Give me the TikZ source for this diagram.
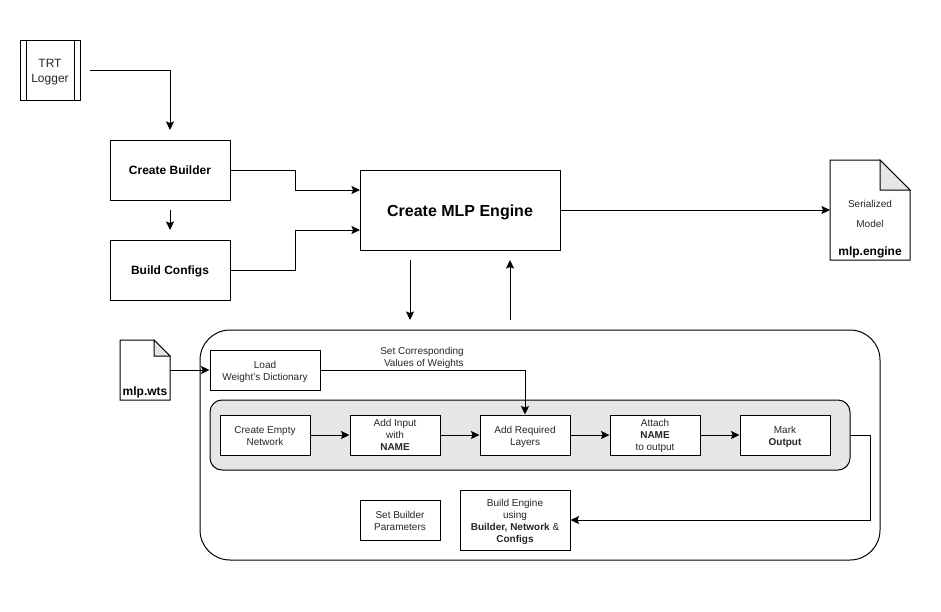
\documentclass[tikz,border=0pt]{standalone}
\usepackage{fontspec}
\setmainfont{Liberation Sans}
\usetikzlibrary{arrows.meta,calc}
\definecolor{panel}{HTML}{E6E6E6}
\tikzset{
  x=1pt,y=-1pt,
  line/.style={line width=1pt,draw=black},
  conn/.style={line,-{Stealth[length=8.5pt,width=8pt,inset=1.5pt]}},
  boxed/.style={line,draw,fill=white,inner sep=0pt,align=center,font=\fontsize{10}{12}\selectfont,text=black!85,text depth=2pt},
  threeline/.style={boxed,text depth=4pt},
  strongbox/.style={boxed,font=\fontsize{12}{14}\selectfont\bfseries,text=black,text height=10.5pt,text depth=2pt},
  big/.style={boxed,font=\fontsize{16}{19}\selectfont\bfseries,text=black,text height=13.5pt,text depth=0pt},
  lbl/.style={inner sep=0pt,align=center,font=\fontsize{10}{12}\selectfont,text=black!85,text depth=2pt},
  boldlbl/.style={inner sep=0pt,font=\fontsize{12}{14}\selectfont\bfseries,text=black,text height=10.5pt,text depth=2pt},
}
\newcommand{\bx}[7]{\node[#7,minimum width=#4pt,minimum height=#5pt] (#1) at (#2+#4/2,#3+#5/2) {\rule{0pt}{10pt}#6};}
\newcommand{\dogear}[6]{% name x y w h fold
  \draw[line,fill=white] (#2,#3) -- (#2+#4-#6,#3) -- (#2+#4,#3+#6) -- (#2+#4,#3+#5) -- (#2,#3+#5) -- cycle;
  \draw[line,fill=panel] (#2+#4-#6,#3) -- (#2+#4,#3+#6) -- (#2+#4-#6,#3+#6) -- cycle;
  \coordinate (#1) at (#2+#4/2,#3+#5/2);
}
\begin{document}
\begin{tikzpicture}
\useasboundingbox (0,0) rectangle (941,611);
\fill[white] (0,0) rectangle (941,611);
% logger
\node[boxed,font=\fontsize{12}{15}\selectfont,minimum width=60pt,minimum height=60pt] (logger) at (50,70) {\rule{0pt}{11pt}TRT\\Logger};
\draw[line] (26,40) -- (26,100) (74,40) -- (74,100);
\bx{builder}{110}{140}{120}{60}{Create Builder}{strongbox}
\bx{configs}{110}{240}{120}{60}{Build Configs}{strongbox}
\node[big,minimum width=200pt,minimum height=80pt] (engine) at (460,210) {Create MLP Engine};
% documents
\dogear{modeldoc}{830}{160}{80}{100}{30}
\node[lbl] (ser) at (870,203) {\rule{0pt}{10pt}Serialized};
\node[lbl] (mod) at (870,223) {\rule{0pt}{10pt}Model};
\node[boldlbl] (mlpengine) at (870,251) {mlp.engine};
\coordinate (modelW) at (830,210);
\dogear{wtsdoc}{120}{340}{50}{60}{16}
\node[boldlbl] (mlpwts) at (145,391) {mlp.wts};
\coordinate (wtsE) at (170,370);
% large panel
\draw[line,fill=white,rounded corners=30pt] (200,330) rectangle (880,560);
\draw[line,fill=panel,rounded corners=12pt] (210,400) rectangle (850,470);
\bx{load}{210}{350}{110}{40}{Load\\Weight's Dictionary}{boxed}
\bx{empty}{220}{415}{90}{40}{Create Empty\\Network}{boxed}
\bx{input}{350}{415}{90}{40}{Add Input\\with\\\textbf{NAME}}{threeline}
\bx{layers}{480}{415}{90}{40}{Add Required\\Layers}{boxed}
\bx{attach}{610}{415}{90}{40}{Attach\\\textbf{NAME}\\to output}{threeline}
\bx{mark}{740}{415}{90}{40}{Mark\\\textbf{Output}}{boxed}
\bx{params}{360}{500}{80}{40}{Set Builder\\Parameters}{boxed}
\bx{build}{460}{490}{110}{60}{Build Engine\\using\\\textbf{Builder, Network} \&\\\textbf{Configs}}{boxed}
\node[lbl,align=right] (setlbl) at (422,356) {\rule{0pt}{10pt}Set Corresponding\\Values of Weights};
% free ends
\coordinate (logE) at (90,70);
\coordinate (builderIn) at (170,130);
\coordinate (bcS) at (170,210);
\coordinate (bcE) at (170,230);
\coordinate (downS) at (410,260);
\coordinate (downE) at (410,320);
\coordinate (upS) at (510,320);
\coordinate (upE) at (510,260);
\coordinate (panelE) at (850,435);
% connectors
\draw[conn] (logE) -| (builderIn);
\draw[conn] (bcS) -- (bcE);
\draw[conn] (builder.east) -- (295,170) -- (295,190) -- (360,190);
\draw[conn] (configs.east) -- (295,270) -- (295,230) -- (360,230);
\draw[conn] (engine.east) -- (modelW);
\draw[conn] (downS) -- (downE);
\draw[conn] (upS) -- (upE);
\draw[conn] (wtsE) -- (load.west);
\draw[conn] (load.east) -| (layers.north -| 525,415);
\draw[conn] (empty) -- (input);
\draw[conn] (input) -- (layers);
\draw[conn] (layers) -- (attach);
\draw[conn] (attach) -- (mark);
\draw[conn] (panelE) -- (870,435) -- (870,520) -- (build.east);
\end{tikzpicture}
\end{document}
